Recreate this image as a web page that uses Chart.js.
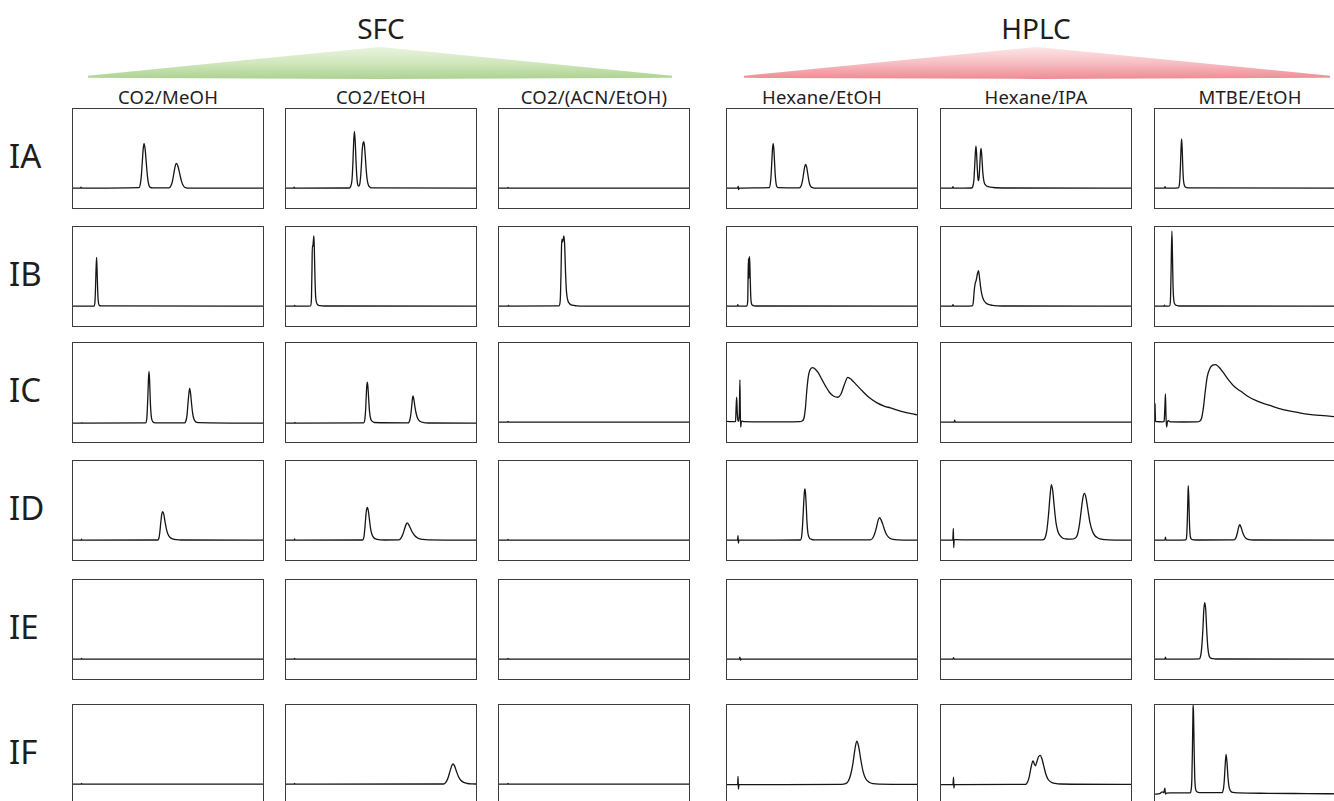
<!DOCTYPE html>
<html><head><meta charset="utf-8">
<script src="https://cdn.jsdelivr.net/npm/chart.js@4.4.0/dist/chart.umd.min.js"></script>
<style>
html,body{margin:0;padding:0;background:#fff;}
body{width:1334px;height:801px;overflow:hidden;position:relative;font-family:"Noto Sans","Open Sans",sans-serif;color:#1e1e1e;}
.panel{position:absolute;box-sizing:border-box;border:1px solid #3c3c3c;background:#fff;}
.panel canvas{display:block;}
.col-h{position:absolute;font-size:18.5px;text-align:center;width:240px;line-height:22px;white-space:nowrap;letter-spacing:0.2px;}
.row-h{position:absolute;left:9px;font-size:33px;line-height:40px;}
.grp{position:absolute;font-size:28px;text-align:center;width:200px;line-height:32px;}
.wedge{position:absolute;}
</style></head><body>
<div id="root"></div>
<script>
// ---------- labels ----------
const groups = ['SFC', 'HPLC'];
const columns = ['CO2/MeOH', 'CO2/EtOH', 'CO2/(ACN/EtOH)', 'Hexane/EtOH', 'Hexane/IPA', 'MTBE/EtOH'];
const rows = ['IA', 'IB', 'IC', 'ID', 'IE', 'IF'];

// ---------- traces: [x (% of run), signal (% of panel)] ----------
// Row IA
const IA_CO2_MeOH = [[0,20],[3.8,20],[4.2,21],[4.6,20],[34.7,20.5],[35.6,26.1],[36.05,34.6],[36.5,47.3],[36.95,59.7],[37.4,65],[37.95,59.7],[38.5,47.3],[39.05,34.6],[39.6,26.1],[40.15,22],[40.7,20.8],[42,20.3],[50.5,20.3],[51.8,23.4],[52.45,28.1],[53.1,35.2],[53.75,42.1],[54.4,45],[55.25,42.1],[56.1,35.2],[56.95,28.1],[57.8,23.4],[58.65,21.1],[59.5,20.4],[61,20.1],[100,20]];
const IA_CO2_EtOH = [[0,20],[4,20],[4.3,21],[4.6,20],[33.4,20.2],[34.4,24],[34.8,30],[35.2,45],[35.6,66],[36.0,77.4],[36.4,68],[36.8,50],[37.2,34],[37.7,24],[38.3,22],[38.9,25],[39.3,32],[39.7,44],[40.1,58],[40.5,65],[40.9,67.1],[41.3,63],[41.7,53],[42.2,39],[42.7,29],[43.3,23.5],[44.2,21],[45.5,20.3],[100,20]];
const IA_CO2_ACN = [[0,20],[4.5,20],[4.7,20.8],[5,20],[100,20]];
const IA_Hex_EtOH = [[0,20],[5.6,20],[5.9,22],[6.1,18.5],[6.3,20],[22.2,20.5],[22.9,26.1],[23.25,34.6],[23.6,47.3],[23.95,59.7],[24.3,65],[24.65,59.7],[25.0,47.3],[25.35,34.6],[25.8,25],[26.3,21.5],[27,20.5],[38.1,20.3],[39.2,23.2],[39.75,27.8],[40.3,34.6],[40.85,41.2],[41.4,44],[41.95,41.2],[42.5,34.6],[43.05,27.8],[43.6,23.5],[44.3,21.2],[45.2,20.4],[47,20.1],[100,20]];
const IA_Hex_IPA = [[0,20],[6,20],[6.3,21.5],[6.6,20],[16,20.2],[16.8,22],[17.3,28],[17.8,45],[18.1,56],[18.4,62.5],[18.7,56],[19.1,40],[19.5,29],[19.8,27.6],[20.1,32],[20.5,46],[20.8,56],[21.1,60.1],[21.5,52],[22,36],[22.6,27],[23.5,23],[25,21.5],[27.5,20.7],[35,20.2],[100,20]];
const IA_MTBE_EtOH = [[0,20],[5,20],[5.3,21.5],[5.6,20],[12.2,20.3],[12.8,23],[13.1,30],[13.4,43],[13.7,60],[14.0,69.8],[14.3,60],[14.6,43],[14.9,30],[15.3,24],[16,21.2],[17.5,20.4],[100,20]];
// Row IB
const IB_CO2_MeOH = [[0,20],[11.0,20.2],[11.5,23],[11.8,35],[12.1,55],[12.4,69.3],[12.7,55],[13.0,35],[13.3,25],[13.8,21],[14.8,20.3],[100,20]];
const IB_CO2_EtOH = [[0,20],[4.3,20],[4.5,20.8],[4.8,20],[13.0,20.3],[13.4,28],[13.7,60],[13.85,81],[14.1,80],[14.4,86],[14.7,91],[15.0,70],[15.3,45],[15.6,30],[16.0,24],[16.7,21.5],[18,20.5],[20,20.2],[100,20]];
const IB_CO2_ACN = [[0,20],[4.8,20],[5,20.8],[5.3,20],[31.5,20.3],[32.2,25],[32.6,50],[32.9,80],[33.1,87.5],[33.5,85],[33.9,89],[34.2,91],[34.6,80],[35.0,55],[35.5,35],[36.2,26],[37.2,22.5],[38.5,21],[41,20.4],[45,20.1],[100,20]];
const IB_Hex_EtOH = [[0,20],[5.4,20],[5.7,21.5],[6.0,20],[10.3,20],[10.9,25],[11.1,50],[11.3,68],[11.5,48],[11.7,68],[11.9,70],[12.2,50],[12.5,30],[12.9,22.5],[13.6,20.8],[15,20.2],[100,20]];
const IB_Hex_IPA = [[0,20],[6,20],[6.3,21.5],[6.6,20],[16.4,20.3],[17.0,24],[17.5,36],[18.0,43],[18.5,46],[19.2,53],[19.7,55.8],[20.2,50],[20.8,40],[21.5,32],[22.4,26.5],[23.5,23.5],[25,21.8],[27,20.9],[30,20.4],[35,20.2],[100,20]];
const IB_MTBE_EtOH = [[0,20],[4.7,20],[5,21],[5.3,20],[7.8,20.3],[8.2,30],[8.5,60],[8.9,95.7],[9.2,70],[9.5,40],[9.9,26],[10.5,22],[11.5,20.7],[13,20.2],[100,20]];
// Row IC
const IC_CO2_MeOH = [[0,19],[4.5,19],[4.7,19.6],[5,19],[38.2,19.3],[38.8,23],[39.1,32],[39.4,46],[39.7,63],[40,71.4],[40.3,63],[40.6,46],[40.9,33],[41.3,24.5],[42,20.5],[43.5,19.4],[58.6,19.3],[59.6,22.5],[60.1,28.7],[60.5,38.6],[61,49],[61.4,54.2],[61.9,49],[62.4,38.6],[63,28.7],[63.6,23.5],[64.5,20.5],[66,19.5],[100,19]];
const IC_CO2_EtOH = [[0,19],[4.5,19],[4.7,19.8],[5,19],[40.8,19.3],[41.5,23],[41.9,32],[42.2,45],[42.5,56],[42.8,60.5],[43.1,56],[43.5,44],[43.9,32],[44.5,24],[45.3,21],[46.5,19.7],[64.3,19.3],[65.2,22.5],[65.7,28],[66.2,37],[66.5,43],[66.8,46.5],[67.3,43],[67.9,35],[68.6,28],[69.4,23.5],[70.5,21],[72.5,19.6],[75,19.2],[100,19]];
const IC_CO2_ACN = [[0,20],[4.5,20],[4.7,20.8],[5,20],[100,20]];
const IC_Hex_EtOH = [[0,20.8],[3.8,20.5],[4.5,21],[4.8,35],[5.1,45.2],[5.4,30],[5.8,21.5],[6.2,21],[6.5,30],[6.8,62.7],[7.0,30],[7.2,15],[7.5,20],[7.9,21],[9,20.5],[20,20.3],[30,20.4],[38,20.6],[39.5,21.3],[40.5,24],[41.3,35],[42,52],[42.8,66],[43.7,73],[45.0,75.2],[46.2,74],[48,70],[50,63],[52,56],[54,50],[56,46.5],[58.4,45.2],[60,48.5],[61.6,57],[63.6,65.3],[65.5,63],[68,58],[71,52],[75,44.6],[79,39.5],[83,36],[86,34.5],[90,32],[95,29.5],[100,27.4]];
const IC_Hex_IPA = [[0,20],[6.9,20],[7.2,22],[7.5,20],[100,20]];
const IC_MTBE_EtOH = [[0,39],[0.3,21],[1,20.5],[4,20.4],[4.8,21],[5.2,35],[5.5,48.5],[5.8,25],[6.1,15],[6.5,20],[7,21.5],[8,20.3],[15,20.2],[22,20.3],[23.5,21],[24.5,24],[25.5,35],[26.5,52],[27.5,66],[28.8,74],[30.3,77.6],[31.9,78.2],[33.5,76],[36,70],[39,62],[42,55.5],[45.2,51.2],[49,46],[53,42],[57,39],[60,37.3],[65,34],[70.6,31.4],[76,29.5],[81,28],[87,26.8],[94,25.7],[100,25]];
// Row ID
const ID_CO2_MeOH = [[0,20],[4.3,20],[4.5,21],[4.8,20],[44.5,20.2],[45.2,22],[45.7,28],[46.2,38],[46.7,46],[47.2,48.8],[47.8,46],[48.5,38],[49.2,31],[50,26],[51,23],[52.5,21.3],[54.5,20.5],[57,20.2],[100,20]];
const ID_CO2_EtOH = [[0,20],[4.3,20],[4.5,21.2],[4.8,20],[40.3,20.2],[41,23],[41.5,32],[42,44],[42.4,51],[42.8,53.1],[43.3,50],[43.9,41],[44.5,32],[45.2,26],[46.2,22.5],[48,20.8],[52,20.2],[59.5,20.3],[60.5,22],[61.5,26],[62.5,32],[63.2,36],[63.8,37.6],[64.5,36],[65.5,32],[66.5,28],[67.8,24.5],[69.5,22],[72,20.8],[75,20.3],[100,20]];
const ID_CO2_ACN = [[0,20],[4.5,20],[4.7,20.8],[5,20],[100,20]];
const ID_Hex_EtOH = [[0,20],[5.5,20],[5.8,24.5],[6.0,17],[6.3,20],[38.6,20.2],[39.3,24],[39.8,36],[40.3,55],[40.7,68],[41.0,71.9],[41.3,68],[41.7,55],[42.1,38],[42.6,27],[43.3,22.5],[44.5,20.8],[46,20.3],[75.5,20.3],[76.8,22.5],[77.8,27],[78.8,34],[79.6,40.5],[80.3,42.9],[81,41],[82,36],[83,30],[84,25.5],[85.5,22.3],[87.5,20.8],[90,20.3],[100,20]];
const ID_Hex_IPA = [[0,20],[6.2,20],[6.5,32],[6.7,12.5],[6.9,20],[7.5,20.5],[15,20.3],[53.5,20.3],[54.8,22.5],[55.7,30],[56.6,46],[57.4,65],[58.1,76.2],[58.8,70],[59.6,54],[60.5,38],[61.5,29],[62.7,24.5],[64.2,22],[66,21.2],[68.5,21],[70.5,22],[71.7,25],[72.8,35],[73.8,50],[74.7,63],[75.5,67.3],[76.3,63],[77.3,51],[78.4,38],[79.6,29.5],[81,24.5],[82.8,22],[85,20.8],[88,20.3],[100,20]];
const ID_MTBE_EtOH = [[0,20],[5.2,20],[5.5,23],[5.8,20],[16.2,20.3],[16.7,25],[17.0,40],[17.3,62],[17.5,75.2],[17.8,62],[18.1,40],[18.4,27],[18.9,21.8],[19.8,20.5],[21.5,20.2],[41.6,20.3],[42.6,22.5],[43.3,27],[44,33],[44.6,35.6],[45.3,33],[46.1,28],[47,24],[48,21.8],[49.5,20.6],[52,20.2],[100,20]];
// Row IE
const IE_CO2_MeOH = [[0,20],[4.3,20],[4.5,20.7],[4.8,20],[100,20]];
const IE_CO2_EtOH = [[0,20],[4.3,20],[4.5,20.8],[4.8,20],[100,20]];
const IE_CO2_ACN = [[0,20],[4.5,20],[4.7,20.8],[5,20],[100,20]];
const IE_Hex_EtOH = [[0,20],[6.5,20],[6.8,22],[7.1,19],[7.4,20],[100,20]];
const IE_Hex_IPA = [[0,20],[6.3,20],[6.6,21.5],[6.9,20],[100,20]];
const IE_MTBE_EtOH = [[0,20],[5.2,20],[5.5,22],[5.8,20],[23.3,20.3],[24,23],[24.6,32],[25.2,50],[25.7,70],[26.2,77.1],[26.7,70],[27.2,50],[27.8,32],[28.4,24],[29.2,21.3],[30.5,20.5],[32,20.2],[100,20]];
// Row IF
const IF_CO2_MeOH = [[0,20],[4.3,20],[4.5,20.7],[4.8,20],[100,20]];
const IF_CO2_EtOH = [[0,20],[4.3,20],[4.5,20.8],[4.8,20],[83,20.2],[84.2,22],[85.2,26],[86.3,33],[87.2,38.5],[87.9,40.6],[88.7,38.5],[89.7,33],[90.8,27.5],[92,24],[93.5,21.8],[95.5,20.7],[98,20.3],[100,20.2]];
const IF_CO2_ACN = [[0,20],[4.5,20],[4.7,20.8],[5,20],[100,20]];
const IF_Hex_EtOH = [[0,19.5],[5.6,19.5],[5.8,28],[6.0,15],[6.3,19.5],[30,19.5],[60,19.8],[62.4,20.5],[63.8,23],[65,29],[66.2,40],[67.3,55],[68.3,63.4],[69.3,58],[70.4,45],[71.6,33],[73,25.5],[74.8,22],[77,20.5],[80,20],[100,19.8]];
const IF_Hex_IPA = [[0,19.5],[6.3,19.5],[6.6,27],[6.8,16],[7.0,19.5],[44.5,19.8],[45.5,22],[46.5,28],[47.4,37],[48.4,43.6],[49.2,40],[49.7,38.6],[50.5,43],[51.4,48],[52.2,49.2],[53,46.5],[54,39],[55.2,30],[56.5,24.5],[58,22],[60,20.8],[63,20.2],[100,19.8]];
const IF_MTBE_EtOH = [[0,10],[2.5,10.5],[3.8,12.3],[4.6,11.5],[5.2,16],[5.5,10],[6,11],[8,11.2],[18.5,11.3],[19.0,14],[19.4,25],[19.7,55],[20.0,95],[20.1,100],[20.3,90],[20.6,55],[20.9,28],[21.3,16],[22,12.5],[23.5,11.5],[35.2,11.5],[35.9,14],[36.4,22],[36.9,38],[37.4,50.2],[37.9,42],[38.4,27],[39,17],[39.8,13],[41,11.7],[44,11.2],[60,10.8],[80,10.5],[100,10.2]];

const traces = [
  [IA_CO2_MeOH, IA_CO2_EtOH, IA_CO2_ACN, IA_Hex_EtOH, IA_Hex_IPA, IA_MTBE_EtOH],
  [IB_CO2_MeOH, IB_CO2_EtOH, IB_CO2_ACN, IB_Hex_EtOH, IB_Hex_IPA, IB_MTBE_EtOH],
  [IC_CO2_MeOH, IC_CO2_EtOH, IC_CO2_ACN, IC_Hex_EtOH, IC_Hex_IPA, IC_MTBE_EtOH],
  [ID_CO2_MeOH, ID_CO2_EtOH, ID_CO2_ACN, ID_Hex_EtOH, ID_Hex_IPA, ID_MTBE_EtOH],
  [IE_CO2_MeOH, IE_CO2_EtOH, IE_CO2_ACN, IE_Hex_EtOH, IE_Hex_IPA, IE_MTBE_EtOH],
  [IF_CO2_MeOH, IF_CO2_EtOH, IF_CO2_ACN, IF_Hex_EtOH, IF_Hex_IPA, IF_MTBE_EtOH]
];

// ---------- layout ----------
const colLeft = [72, 285, 498, 726, 940, 1154];
const rowTop = [108, 226, 342, 460, 579, 704];
const PW = 192, PH = 101;
const root = document.getElementById('root');

function el(cls, text, css) {
  const d = document.createElement('div');
  d.className = cls;
  if (text) d.textContent = text;
  Object.assign(d.style, css);
  root.appendChild(d);
  return d;
}

// group wedges
el('wedge', '', {left:'88px', top:'44px', width:'584px', height:'36px',
  background:'linear-gradient(to bottom, #eef6e6 0%, #cfe6bb 55%, #a9d18d 100%)',
  clipPath:'polygon(0 88%, 50% 8%, 100% 88%, 100% 94%, 50% 97%, 0 94%)'});
el('wedge', '', {left:'744px', top:'44px', width:'586px', height:'36px',
  background:'linear-gradient(to bottom, #fdeeee 0%, #f6bcc0 55%, #ee8890 100%)',
  clipPath:'polygon(0 88%, 50% 8%, 100% 88%, 100% 94%, 50% 97%, 0 94%)'});
el('grp', groups[0], {left:(381-100)+'px', top:'12px'});
el('grp', groups[1], {left:(1036-100)+'px', top:'12px'});

columns.forEach((c, j) => {
  el('col-h', c, {left:(colLeft[j] + PW/2 - 120)+'px', top:'86px'});
});
rows.forEach((r, i) => {
  el('row-h', r, {top:(rowTop[i] + 48 - 20)+'px'});
});

traces.forEach((rowData, i) => {
  rowData.forEach((pts, j) => {
    const box = el('panel', '', {left:colLeft[j]+'px', top:rowTop[i]+'px', width:PW+'px', height:PH+'px'});
    const cv = document.createElement('canvas');
    cv.width = PW - 2; cv.height = PH - 2;
    cv.style.width = (PW - 2) + 'px'; cv.style.height = (PH - 2) + 'px';
    box.appendChild(cv);
    new Chart(cv, {
      type: 'line',
      data: { datasets: [{
        data: pts.map(p => ({x: p[0], y: p[1]})),
        borderColor: '#151515', borderWidth: 1.3, pointRadius: 0,
        cubicInterpolationMode: 'monotone', fill: false
      }]},
      options: {
        animation: false, responsive: false, events: [],
        layout: { padding: 0 },
        plugins: { legend: { display: false }, tooltip: { enabled: false } },
        scales: {
          x: { type: 'linear', min: 0, max: 100, display: false },
          y: { type: 'linear', min: 0, max: 100, display: false }
        }
      }
    });
  });
});
</script>
</body></html>
